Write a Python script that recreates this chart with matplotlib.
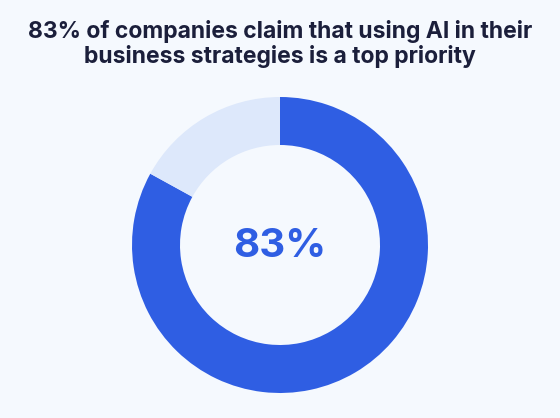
import matplotlib.pyplot as plt

# data
labels = ["Top priority", "Other"]
shares = [83, 17]
title = "83% of companies claim that using AI in their\nbusiness strategies is a top priority"
center_label = "83%"

colors = ["#2f5ee3", "#dde8fb"]
bg = "#f5f9fe"

fig = plt.figure(figsize = (5.6, 4.18), dpi = 100, facecolor = bg)

# donut axes: centre at (280, 245) px from top, 300 px box
ax = fig.add_axes([130 / 560, (173 - 150) / 418, 300 / 560, 300 / 418])
ax.set_facecolor(bg)
ax.pie(shares, colors = colors, startangle = 90, counterclock = False,
       radius = 148 / 150, wedgeprops = dict(width = 48 / 150, linewidth = 0))
ax.set_xlim(-1, 1)
ax.set_ylim(-1, 1)
ax.set_aspect("equal")
ax.axis("off")

ax.text(0, -0.01, center_label, ha = "center", va = "center", fontsize = 29,
        fontweight = "bold", color = "#2f5ee3", family = "Inter")

fig.text(0.5, 1 - 44 / 418, title, ha = "center", va = "center", fontsize = 16.5,
         fontweight = "bold", color = "#1b1f3b", family = "Inter", linespacing = 1.15)

fig.savefig("out.png", dpi = 100, facecolor = bg)
